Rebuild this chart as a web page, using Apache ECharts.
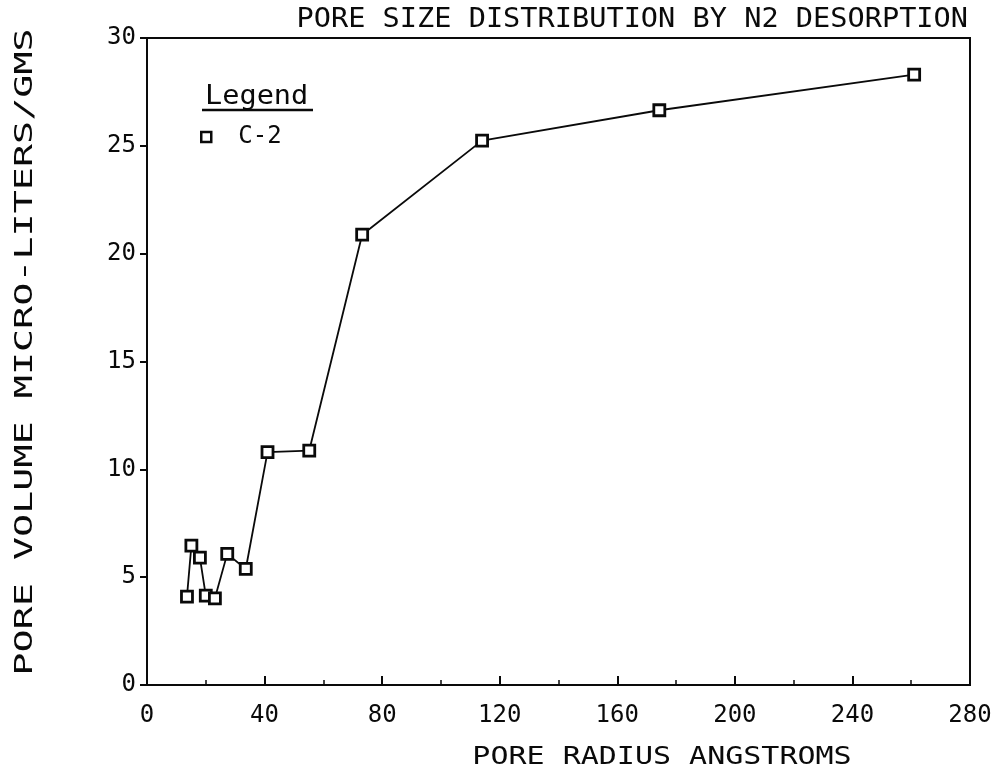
<!DOCTYPE html>
<html>
<head>
<meta charset="utf-8">
<title>Pore Size Distribution by N2 Desorption</title>
<script src="https://cdn.jsdelivr.net/npm/echarts@6/dist/echarts.min.js"></script>
<style>
  html, body { margin: 0; padding: 0; background: #ffffff; }
  #chart { width: 1006px; height: 781px; }
</style>
</head>
<body>
<div id="chart"></div>
<script>
// Sample C-2: pore radius (angstroms) vs cumulative pore volume (micro-liters/g)
const poreRadius = [13.6, 15.1, 18.0, 20.0, 23.1, 27.3, 33.6, 41.0, 55.2, 73.2, 114.0, 174.3, 261.0];
const poreVolume = [4.10, 6.46, 5.91, 4.14, 4.02, 6.08, 5.38, 10.80, 10.87, 20.88, 25.24, 26.65, 28.30];

const seriesName = 'C-2';
const chartTitle = 'PORE SIZE DISTRIBUTION BY N2 DESORPTION';
const xAxisTitle = 'PORE RADIUS ANGSTROMS';
const yAxisTitle = 'PORE VOLUME MICRO-LITERS/GMS';
const legendTitle = 'Legend';

const FONT = '"DejaVu Sans Mono", "Liberation Mono", monospace';
const INK = '#0a0a0a';

const points = poreRadius.map((r, i) => [r, poreVolume[i]]);

const chart = echarts.init(document.getElementById('chart'), null, { renderer: 'canvas' });

chart.setOption({
  backgroundColor: '#ffffff',
  animation: false,
  grid: {
    left: 147, right: 36, top: 38, bottom: 96,
    show: true, borderColor: INK, borderWidth: 2, backgroundColor: 'transparent'
  },
  xAxis: {
    type: 'value', min: 0, max: 280, interval: 40,
    axisLine: { show: true, lineStyle: { color: INK, width: 2 } },
    axisTick: { show: true, inside: true, length: 9, lineStyle: { color: INK, width: 2 } },
    minorTick: { show: true, splitNumber: 2, length: 5, lineStyle: { color: INK, width: 1.5 } },
    splitLine: { show: false },
    axisLabel: { color: INK, fontFamily: FONT, fontSize: 24, margin: 19 }
  },
  yAxis: {
    type: 'value', min: 0, max: 30, interval: 5,
    axisLine: { show: true, lineStyle: { color: INK, width: 2 } },
    axisTick: { show: true, inside: false, length: 7, lineStyle: { color: INK, width: 2 } },
    splitLine: { show: false },
    axisLabel: { color: INK, fontFamily: FONT, fontSize: 24, margin: 11 }
  },
  legend: {
    left: 195, top: 120,
    itemWidth: 10, itemHeight: 10,
    icon: 'rect',
    data: [seriesName],
    itemStyle: { color: '#ffffff', borderColor: INK, borderWidth: 2.5 },
    textStyle: { color: INK, fontFamily: FONT, fontSize: 24, padding: [0, 0, 0, 22] },
    selectedMode: false
  },
  series: [{
    name: seriesName,
    type: 'line',
    data: points,
    symbol: 'rect',
    symbolSize: 11,
    showAllSymbol: true,
    lineStyle: { color: INK, width: 1.8 },
    itemStyle: { color: '#ffffff', borderColor: INK, borderWidth: 2.8 },
    z: 3
  }],
  graphic: [
    {
      type: 'text', x: 968, y: 20, scaleX: 1.1, scaleY: 1,
      style: { text: chartTitle, fill: INK, font: '26px ' + FONT, textAlign: 'right', textVerticalAlign: 'middle' }
    },
    {
      type: 'text', x: 662, y: 757, scaleX: 1.2, scaleY: 1,
      style: { text: xAxisTitle, fill: INK, font: '25px ' + FONT, textAlign: 'center', textVerticalAlign: 'middle' }
    },
    {
      type: 'text', x: 26, y: 352, rotation: Math.PI / 2, scaleX: 1.6, scaleY: 1,
      style: { text: yAxisTitle, fill: INK, font: '24px ' + FONT, textAlign: 'center', textVerticalAlign: 'middle' }
    },
    {
      type: 'text', x: 205, y: 97, scaleX: 1.1, scaleY: 1,
      style: { text: legendTitle, fill: INK, font: '26px ' + FONT, textAlign: 'left', textVerticalAlign: 'middle' }
    },
    {
      type: 'line',
      shape: { x1: 202, y1: 110, x2: 313, y2: 110 },
      style: { stroke: INK, lineWidth: 2.5 }
    }
  ]
});
</script>
</body>
</html>
